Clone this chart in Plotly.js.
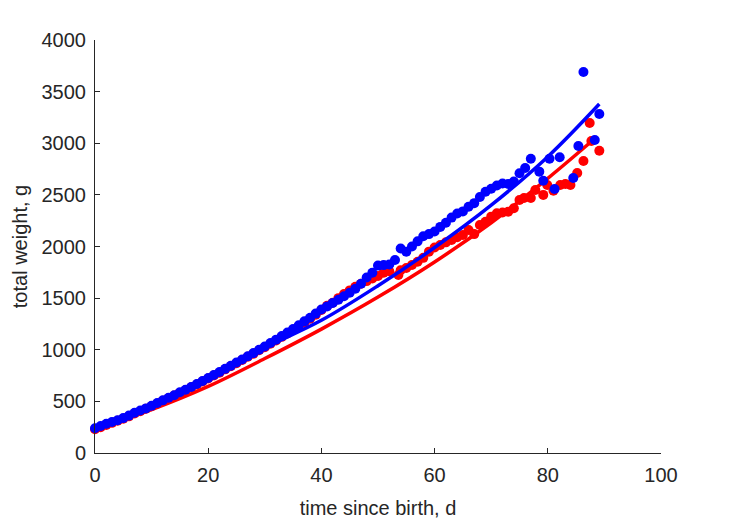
<!DOCTYPE html>
<html><head><meta charset="utf-8">
<script src="https://cdn.plot.ly/plotly-3.0.1.min.js"></script>
<style>html,body{margin:0;padding:0;background:#fff}#chart{width:729px;height:521px}</style>
</head><body><div id="chart"></div>
<script>
// Observed data (blue series)
const blueDays = [0,1,2,3,4,5,6,7,8,9,10,11,12,13,14,15,16,17,18,19,20,21,22,23,24,25,26,27,28,29,30,31,32,33,34,35,36,37,38,39,40,41,42,43,44,45,46,47,48,49,50,51,52,53,54,55,56,57,58,59,60,61,62,63,64,65,66,67,68,69,70,71,72,73,74,75,76,77,78.5,79.2,80.3,81.2,82.1,84.5,85.4,86.3,88.3,89.1];
const blueWeight = [240,262,283,300,318,338,362,390,412,432,458,485,510,535,560,588,612,640,668,697,727,755,785,815,845,876,906,937,968,1000,1032,1065,1098,1132,1166,1200,1238,1275,1310,1350,1390,1420,1452,1485,1518,1552,1590,1640,1700,1745,1815,1820,1825,1870,1980,1950,2000,2050,2100,2120,2145,2190,2230,2280,2320,2340,2385,2420,2480,2530,2560,2590,2610,2605,2630,2710,2760,2850,2725,2637,2850,2557,2864,2663,2973,3690,3031,3283];
// Observed data (red series)
const redDays = [0,1,2,3,4,5,6,7,8,9,10,11,12,13,14,15,16,17,18,19,20,21,22,23,24,25,26,27,28,29,30,31,32,33,34,35,36,37,38,39,40,41,42,43,44,45,46,47,48,49,50,51,52,53.6,54,55,56,57,58,59,60,61,62,63,64,65,66,67,68,69,70,71,72,73,74,75,75.8,77,77.8,79.2,79.9,81,82.2,83.1,84,85.2,86.3,87.4,87.7,89.1];
const redWeight = [230,250,272,292,312,332,355,382,405,428,452,478,505,530,556,582,608,636,664,692,722,750,778,810,840,870,900,932,962,995,1025,1058,1090,1125,1158,1192,1228,1262,1300,1340,1385,1425,1455,1500,1540,1575,1610,1640,1665,1690,1715,1745,1760,1724,1770,1792,1821,1853,1890,1950,1990,2015,2040,2063,2090,2111,2160,2120,2208,2240,2289,2321,2330,2337,2370,2450,2470,2470,2547,2500,2596,2540,2596,2605,2596,2712,2828,3196,3022,2928];
// Fitted curves
const blueFitDays = [0,10,20,30,40,50,60,70,80,89.1];
const blueFitWeight = [240,470,740,1020,1285,1620,1990,2400,2870,3380];
const redFitDays = [0,10,20,30,40,50,60,70,80,88];
const redFitWeight = [230,420,645,915,1200,1510,1850,2230,2660,3031];

const xTicks = [0,20,40,60,80,100];
const yTicks = [0,500,1000,1500,2000,2500,3000,3500,4000];

const RED = '#ff0000', BLUE = '#0000ff', AX = '#262626';

const traces = [
  {x: redDays, y: redWeight, type:'scatter', mode:'markers', marker:{color:RED, size:10}, cliponaxis:false},
  {x: redFitDays, y: redFitWeight, type:'scatter', mode:'lines', line:{color:RED, width:3.5, shape:'spline'}, cliponaxis:false},
  {x: blueDays, y: blueWeight, type:'scatter', mode:'markers', marker:{color:BLUE, size:10}, cliponaxis:false},
  {x: blueFitDays, y: blueFitWeight, type:'scatter', mode:'lines', line:{color:BLUE, width:3.5, shape:'spline'}, cliponaxis:false}
];

const font = {family:'Liberation Sans, Arial, Helvetica, sans-serif', size:20, color:AX};

const layout = {
  width:729, height:521,
  margin:{l:95, r:68, t:40, b:68},
  paper_bgcolor:'#fff', plot_bgcolor:'#fff',
  showlegend:false,
  font: font,
  xaxis:{
    range:[0,100], tickvals:xTicks, ticktext:xTicks.map(String),
    showgrid:false, zeroline:false, showline:true, linecolor:AX, linewidth:1,
    ticks:'inside', ticklen:5, tickcolor:AX, tickfont:font, ticklabelstandoff:4,
    title:{text:'time since birth, d', font:font, standoff:15}
  },
  yaxis:{
    range:[0,4000], tickvals:yTicks, ticktext:yTicks.map(String),
    showgrid:false, zeroline:false, showline:true, linecolor:AX, linewidth:1,
    ticks:'inside', ticklen:5, tickcolor:AX, tickfont:font, ticklabelstandoff:4,
    title:{text:'total weight, g', font:font, standoff:8}
  }
};

Plotly.newPlot('chart', traces, layout, {staticPlot:true, displayModeBar:false});
</script></body></html>
